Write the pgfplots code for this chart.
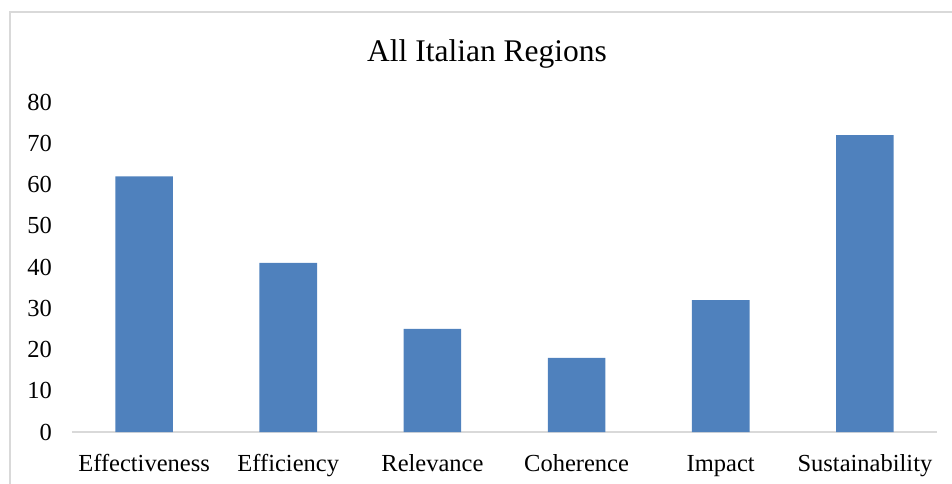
\documentclass[border=0pt]{standalone}
\usepackage{pgfplots}
\pgfplotsset{compat=1.18}
\usepackage{fontspec}
\setmainfont{Liberation Serif}

\definecolor{barblue}{HTML}{4F81BD}
\definecolor{framegray}{HTML}{D9D9D9}

\pgfplotstableread{
idx value
0 62
1 41
2 25
3 18
4 32
5 72
}\regiondata

\begin{document}
\begin{tikzpicture}
  % page area and the chart frame around the plot
  \useasboundingbox (-72pt,-52pt) rectangle (880pt,432pt);
  \begin{scope}
    \clip (-72pt,-52pt) rectangle (880pt,432pt);
    \draw[framegray, line width=1.5pt] (-62pt,-80pt) -- (-62pt,420pt) -- (900pt,420pt);
  \end{scope}
  \begin{axis}[
    at={(0pt,0pt)}, anchor=south west,
    scale only axis,
    width=865pt, height=330pt,
    xmin=-0.5, xmax=5.5,
    ymin=0, ymax=80,
    ytick={0,10,...,80},
    xtick={0,1,2,3,4,5},
    xticklabels={Effectiveness,Efficiency,Relevance,Coherence,Impact,Sustainability},
    axis lines*=left,
    x axis line style={draw=framegray, line width=1.5pt},
    y axis line style={draw=none},
    major tick length=0pt,
    tick style={draw=none},
    /pgf/number format/assume math mode=true,
    ticklabel style={font=\fontsize{24.5}{28}\selectfont, inner sep=0pt},
    xticklabel style={anchor=base, yshift=-39pt},
    yticklabel style={anchor=east, xshift=-20pt},
    ybar, bar width=57.6pt, bar shift=0pt,
  ]
    \addplot[fill=barblue, draw=none] table[x=idx, y=value] {\regiondata};
  \end{axis}
  \node[anchor=base, font=\fontsize{31.5}{36}\selectfont, inner sep=0pt] at (415pt,370pt) {All Italian Regions};
\end{tikzpicture}
\end{document}
